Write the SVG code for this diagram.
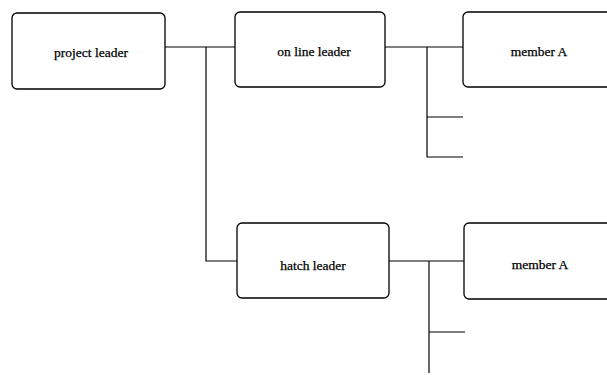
<svg xmlns="http://www.w3.org/2000/svg" width="607" height="375" viewBox="0 0 607 375">
<style>
.box{fill:#fff;stroke:#000;stroke-width:1.3}
.lbl{font-family:"Liberation Serif",serif;font-size:13.5px;fill:#000;stroke:#000;stroke-width:0.25;text-anchor:middle;dominant-baseline:central}
.conn{fill:none;stroke:#000;stroke-width:1.2}
</style>
<rect width="607" height="375" fill="#fff"/>
<g id="connectors" class="conn">
<path d="M165 47H235"/>
<path d="M206 47V261H237"/>
<path d="M385 47H463"/>
<path d="M427 47V157H463"/>
<path d="M427 117H463"/>
<path d="M389 261H464"/>
<path d="M429 261V373"/>
<path d="M429 332H465"/>
</g>
<g id="project-leader">
<rect class="box" x="12" y="13" width="153" height="76" rx="5"/>
<text class="lbl" x="91" y="52">project leader</text>
</g>
<g id="online-leader">
<rect class="box" x="235" y="12" width="150" height="75" rx="5"/>
<text class="lbl" x="314" y="51">on line leader</text>
</g>
<g id="member-a-1">
<rect class="box" x="463" y="12" width="150" height="75" rx="5"/>
<text class="lbl" x="539" y="51">member A</text>
</g>
<g id="hatch-leader">
<rect class="box" x="237" y="223" width="152" height="75" rx="5"/>
<text class="lbl" x="313" y="265">hatch leader</text>
</g>
<g id="member-a-2">
<rect class="box" x="464" y="223" width="150" height="76" rx="5"/>
<text class="lbl" x="540" y="264">member A</text>
</g>
</svg>
